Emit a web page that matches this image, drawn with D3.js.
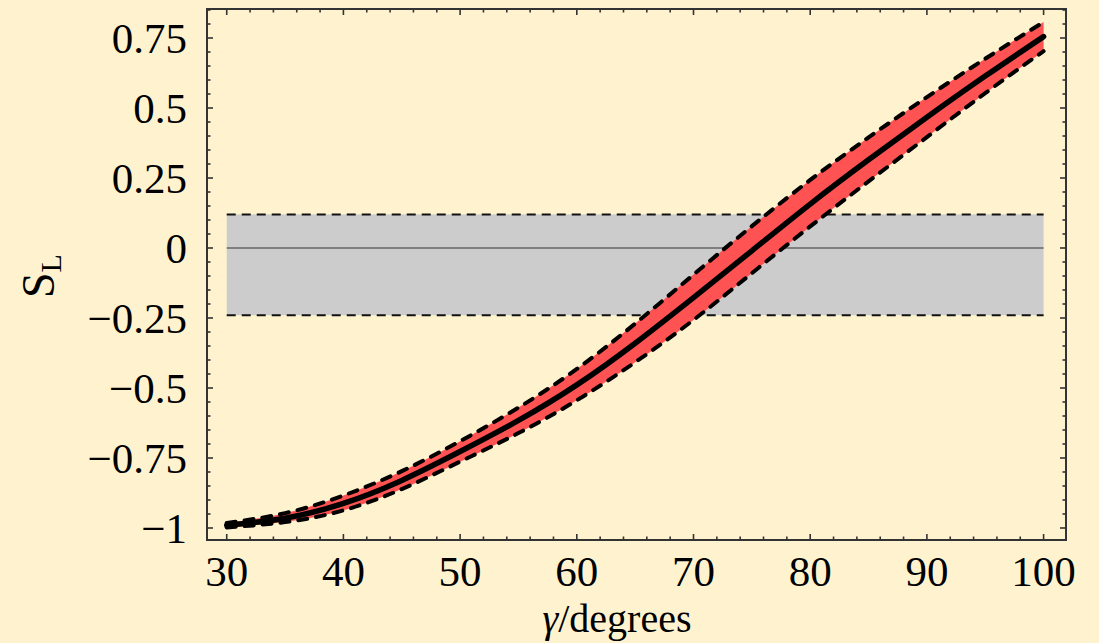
<!DOCTYPE html>
<html>
<head>
<meta charset="utf-8">
<script src="https://cdn.jsdelivr.net/npm/d3@7"></script>
<style>
  html, body { margin: 0; padding: 0; background: #fff3cf; }
  svg { display: block; }
  text, tspan { font-family: "Liberation Serif", "Times New Roman", serif; fill: #000; }
</style>
</head>
<body>
<svg id="chart" width="1099" height="643"></svg>
<script>
// gamma in degrees
const gamma = [30, 35, 40, 45, 50, 55, 60, 65, 70, 75, 80, 85, 90, 95, 100];
// central prediction of S_L
const central = [-0.990, -0.965, -0.912, -0.830, -0.727, -0.616, -0.489, -0.340, -0.177, -0.010, 0.157, 0.315, 0.467, 0.614, 0.755];
// upper and lower edges of the uncertainty band
const upper = [-0.982, -0.947, -0.884, -0.797, -0.690, -0.570, -0.432, -0.270, -0.095, 0.078, 0.243, 0.395, 0.539, 0.676, 0.807];
const lower = [-0.998, -0.979, -0.937, -0.861, -0.763, -0.661, -0.544, -0.408, -0.257, -0.090, 0.077, 0.238, 0.396, 0.553, 0.703];
// experimental range shown as the grey band
const expRange = [-0.24, 0.12];
const expGamma = [30, 100];
// tick labels
const xTicks = [30, 40, 50, 60, 70, 80, 90, 100];
const yTicks = [-1, -0.75, -0.5, -0.25, 0, 0.25, 0.5, 0.75];
const yTickLabels = ["\u22121", "\u22120.75", "\u22120.5", "\u22120.25", "0", "0.25", "0.5", "0.75"];

const FONT = "'Liberation Serif', 'Times New Roman', serif";
const svg = d3.select("#chart");
const L = 207, R = 1066, T = 9, B = 540;

const x = d3.scaleLinear().domain([28.31, 101.92]).range([L, R]);
const y = d3.scaleLinear().domain([-1.0429, 0.8536]).range([B, T]);

// grey band with dashed edges
svg.append("rect")
  .attr("x", x(expGamma[0])).attr("width", x(expGamma[1]) - x(expGamma[0]))
  .attr("y", y(expRange[1])).attr("height", y(expRange[0]) - y(expRange[1]))
  .attr("fill", "#cccccc");
expRange.forEach(v => {
  svg.append("line")
    .attr("x1", x(expGamma[0])).attr("x2", x(expGamma[1]))
    .attr("y1", y(v)).attr("y2", y(v))
    .attr("stroke", "#111").attr("stroke-width", 2)
    .attr("stroke-dasharray", "9,6");
});
// zero line
svg.append("line")
  .attr("x1", x(expGamma[0])).attr("x2", x(expGamma[1]))
  .attr("y1", y(0)).attr("y2", y(0))
  .attr("stroke", "#333").attr("stroke-width", 1.2);

const pts = gamma.map((g, i) => ({g, c: central[i], u: upper[i], l: lower[i]}));
const curve = d3.curveNatural;

// red uncertainty band
svg.append("path")
  .datum(pts)
  .attr("d", d3.area().x(d => x(d.g)).y0(d => y(d.l)).y1(d => y(d.u)).curve(curve))
  .attr("fill", "#ff5252");

// dashed band edges
["u", "l"].forEach(k => {
  svg.append("path")
    .datum(pts)
    .attr("d", d3.line().x(d => x(d.g)).y(d => y(d[k])).curve(curve))
    .attr("fill", "none").attr("stroke", "#000")
    .attr("stroke-width", 4).attr("stroke-linecap", "round")
    .attr("stroke-dasharray", "9,9");
});

// central curve
svg.append("path")
  .datum(pts)
  .attr("d", d3.line().x(d => x(d.g)).y(d => y(d.c)).curve(curve))
  .attr("fill", "none").attr("stroke", "#000")
  .attr("stroke-width", 5.5).attr("stroke-linecap", "round");

// frame
svg.append("rect")
  .attr("x", L).attr("y", T).attr("width", R - L).attr("height", B - T)
  .attr("fill", "none").attr("stroke", "#333").attr("stroke-width", 2);

// ticks on all four sides, pointing inward
const tickG = svg.append("g").attr("stroke", "#333").attr("stroke-width", 1.6);
d3.range(30, 100.01, 2).forEach(v => {
  const major = Math.abs(v % 10) < 1e-6;
  const len = major ? 6 : 3.5;
  tickG.append("line").attr("x1", x(v)).attr("x2", x(v)).attr("y1", B).attr("y2", B - len);
  tickG.append("line").attr("x1", x(v)).attr("x2", x(v)).attr("y1", T).attr("y2", T + len);
});
d3.range(-1, 0.851, 0.05).forEach(v => {
  const r = Math.round(v * 100);
  const major = r % 25 === 0;
  const len = major ? 6 : 3.5;
  tickG.append("line").attr("x1", L).attr("x2", L + len).attr("y1", y(v)).attr("y2", y(v));
  tickG.append("line").attr("x1", R).attr("x2", R - len).attr("y1", y(v)).attr("y2", y(v));
});

// tick labels
svg.append("g").selectAll("text").data(xTicks).join("text")
  .attr("x", d => x(d)).attr("y", 586)
  .attr("font-family", FONT)
  .attr("text-anchor", "middle").attr("font-size", 43)
  .text(d => d);
svg.append("g").selectAll("text").data(yTicks).join("text")
  .attr("x", 187).attr("y", d => y(d)).attr("dy", "0.34em")
  .attr("font-family", FONT)
  .attr("text-anchor", "end").attr("font-size", 43)
  .text((d, i) => yTickLabels[i]);

// axis titles
const xt = svg.append("text").attr("x", 617).attr("y", 632)
  .attr("font-family", FONT)
  .attr("text-anchor", "middle").attr("font-size", 40);
xt.append("tspan").attr("font-style", "italic").attr("font-family", FONT).text("\u03b3");
xt.append("tspan").attr("font-family", FONT).text("/degrees");

const yt = svg.append("text")
  .attr("transform", "translate(54,276) rotate(-90)")
  .attr("font-family", FONT)
  .attr("text-anchor", "middle").attr("font-size", 46);
yt.append("tspan").text("S");
yt.append("tspan").attr("font-size", 30).attr("dy", 7).text("L");
</script>
</body>
</html>
